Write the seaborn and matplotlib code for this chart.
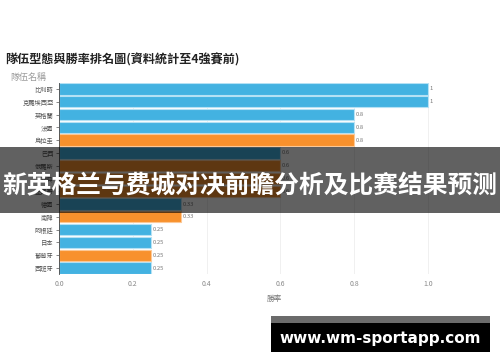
import matplotlib
matplotlib.use("Agg")
import matplotlib.pyplot as plt
import seaborn as sns
import pandas as pd
from matplotlib.patches import Rectangle

teams = ["比利時", "克羅埃西亞", "英格蘭", "法國", "烏拉圭", "巴西", "俄羅斯", "瑞典",
         "墨西哥", "德國", "南韓", "阿根廷", "日本", "葡萄牙", "西班牙"]
win_rate = [1, 1, 0.8, 0.8, 0.8, 0.6, 0.6, 0.6, 0.6, 0.33, 0.33, 0.25, 0.25, 0.25, 0.25]
group = ["A", "A", "A", "A", "B", "A", "B", "B", "B", "A", "B", "A", "A", "B", "A"]
value_labels = ["1", "1", "0.8", "0.8", "0.8", "0.6", "0.6", "0.6", "0.6", "0.33", "0.33",
                "0.25", "0.25", "0.25", "0.25"]
xticks = [0.0, 0.2, 0.4, 0.6, 0.8, 1.0]

title = "隊伍型態與勝率排名圖(資料統計至4強賽前)"
ylabel = "隊伍名稱"
xlabel = "勝率"
banner = "新英格兰与费城对决前瞻分析及比赛结果预测"
watermark = "www.wm-sportapp.com"

sns.set_theme(style="whitegrid")
plt.rcParams["font.family"] = ["Noto Sans CJK TC", "DejaVu Sans"]

df = pd.DataFrame({"team": teams, "rate": win_rate, "group": group})
palette = {"A": "#43b2e1", "B": "#f8912d"}
edge = {"A": "#b5e1f4", "B": "#fcc896"}

fig = plt.figure(figsize=(5, 3.62), dpi=100)
ax = fig.add_axes([0.118, 0.242, 0.862, 0.530])
sns.barplot(data=df, x="rate", y="team", hue="group", palette=palette, dodge=False,
            legend=False, width=0.88, ax=ax, linewidth=0.8, saturation=1)
for container, g in zip(ax.containers, ["A", "B"]):
    for p in container:
        p.set_edgecolor(edge[g])

for i, (v, lab) in enumerate(zip(win_rate, value_labels)):
    ax.text(v + 0.005, i, lab, va="center", ha="left", fontsize=4.2, color="#777777")

ax.set_xlim(0, 1.168)
ax.set_ylim(14.5, -0.5)
ax.set_xticks(xticks)
ax.set_xticklabels([f"{t:.1f}" for t in xticks], fontsize=5, color="#888888")
ax.tick_params(axis="y", labelsize=4.5, labelcolor="#555555", length=2, width=0.5,
               color="#555555", left=True, pad=2)
ax.tick_params(axis="x", length=0, pad=4)
ax.grid(axis="x", color="#eeeeee", linewidth=0.6)
ax.grid(axis="y", visible=False)
for s in ["top", "right", "bottom"]:
    ax.spines[s].set_visible(False)
ax.spines["left"].set_color("#444444")
ax.spines["left"].set_linewidth(0.6)
ax.set_ylabel("")
ax.set_xlabel(xlabel, fontsize=5.5, color="#777777", labelpad=5)

fig.text(0.01, 0.835, title, fontsize=8.7, fontweight="bold", color="#222222",
         va="center", ha="left")
fig.text(0.02, 0.787, ylabel, fontsize=6.5, color="#999999", va="center", ha="left")

# banner overlay
fig.patches.append(Rectangle((0, 149 / 362), 1, 66 / 362, transform=fig.transFigure,
                             facecolor="black", alpha=0.62, edgecolor="none", zorder=5))
fig.text(0.5, 1 - 186 / 362, banner, fontsize=17.8, fontweight="bold", color="white",
         ha="center", va="center", zorder=6, family=["Noto Sans CJK SC", "DejaVu Sans"])

# watermark
fig.patches.append(Rectangle((271 / 500, 1 - 323 / 362), 219 / 500, 7 / 362,
                             transform=fig.transFigure, facecolor="#6b6b6b",
                             edgecolor="none", zorder=5))
fig.patches.append(Rectangle((271 / 500, 1 - 352 / 362), 219 / 500, 29 / 362,
                             transform=fig.transFigure, facecolor="black",
                             edgecolor="none", zorder=5))
fig.text(380 / 500, 1 - 338 / 362, watermark, fontsize=11, fontweight="bold",
         color="white", ha="center", va="center", zorder=6, family=["DejaVu Sans"])

fig.savefig("out.png", dpi=100)
